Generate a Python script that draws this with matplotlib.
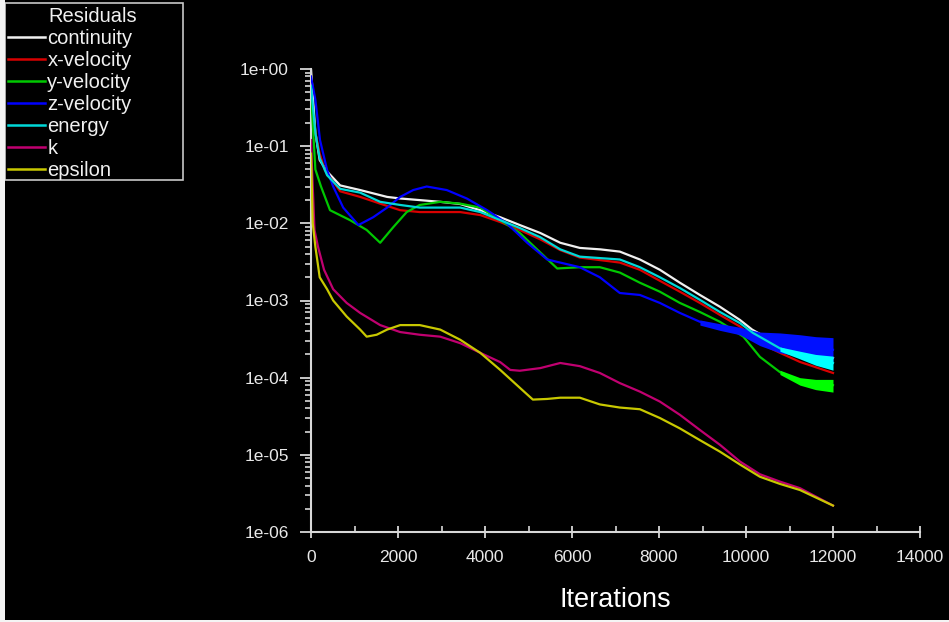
import matplotlib
matplotlib.use("Agg")
import matplotlib.pyplot as plt
from matplotlib.lines import Line2D
from matplotlib.patches import Rectangle

plt.rcParams['font.family'] = ['Liberation Sans', 'DejaVu Sans']

# ---------------- data ----------------
cont_it = [0, 100, 200, 370, 670, 1130, 1750, 2050, 2500, 2970, 3430, 3890, 4350, 4800,
           5270, 5730, 6180, 6650, 7100, 7560, 8020, 8480, 8940, 9400, 9860, 10140,
           10600, 11000, 11500, 12000]
cont = [1.0, 0.15, 0.066, 0.047, 0.031, 0.027, 0.022, 0.021, 0.020, 0.019, 0.0178, 0.0148,
        0.012, 0.0095, 0.0075, 0.0056, 0.0048, 0.0046, 0.0043, 0.0034, 0.0025, 0.0017,
        0.00118, 0.00083, 0.00056, 0.00042, 0.00030, 0.00025, 0.00021, 0.00018]

xvel_it = [0, 100, 200, 320, 670, 1130, 1590, 2050, 2500, 3430, 3890, 4350, 4800, 5270,
           5730, 6180, 7100, 7560, 8020, 8480, 8940, 9400, 9860, 10320, 10780, 11240, 12000]
xvel = [0.4, 0.15, 0.08, 0.049, 0.026, 0.022, 0.018, 0.0148, 0.014, 0.014, 0.0128, 0.0104,
        0.0082, 0.0062, 0.0045, 0.0036, 0.0031, 0.0025, 0.0018, 0.0013, 0.00093, 0.00065,
        0.00046, 0.00028, 0.00021, 0.00016, 0.000115]

yvel_it = [0, 100, 230, 437, 897, 1280, 1590, 1890, 2200, 2500, 2970, 3430, 3890, 4350,
           4800, 5270, 5660, 6180, 6640, 7100, 7560, 8020, 8480, 8940, 9400, 9940, 10320,
           10780, 11240, 11600, 12000]
yvel = [0.5, 0.05, 0.03, 0.0148, 0.011, 0.0082, 0.0056, 0.0089, 0.014, 0.0173, 0.019, 0.018,
        0.016, 0.011, 0.0075, 0.0042, 0.0026, 0.0027, 0.0027, 0.0023, 0.0017, 0.0013, 0.00093,
        0.00071, 0.00053, 0.00034, 0.000186, 0.000118, 0.00009, 0.000083, 0.00008]
yvel_band_it = [10780, 11240, 11600, 12000]
yvel_band_hi = [0.000125, 0.000100, 0.000095, 0.000095]
yvel_band_lo = [0.000110, 0.000080, 0.000070, 0.000065]

zvel_it = [0, 100, 207, 370, 510, 740, 1090, 1430, 1750, 2050, 2350, 2660, 3120, 3580, 4050,
           4500, 4970, 5430, 5730, 6180, 6640, 7100, 7560, 8020, 8480, 8940, 9400, 9860,
           10320, 10780, 11240, 12000]
zvel = [0.8, 0.4, 0.12, 0.049, 0.030, 0.016, 0.0095, 0.012, 0.016, 0.022, 0.027, 0.030, 0.027,
        0.021, 0.0148, 0.010, 0.0056, 0.0034, 0.0031, 0.0027, 0.0020, 0.00125, 0.00118, 0.00093,
        0.00069, 0.00053, 0.00046, 0.00040, 0.00032, 0.00028, 0.00026, 0.00023]
zvel_band_it = [8940, 9400, 9860, 10320, 10780, 11240, 11600, 12000]
zvel_band_hi = [0.00056, 0.00050, 0.00045, 0.00039, 0.00038, 0.00036, 0.00034, 0.00033]
zvel_band_lo = [0.00048, 0.00041, 0.00036, 0.00026, 0.00021, 0.00019, 0.00017, 0.00016]

energy_it = [0, 100, 200, 370, 670, 1130, 1590, 2050, 2500, 2970, 3430, 3890, 4350, 4800,
             5270, 5730, 6180, 7100, 7560, 8020, 8480, 8940, 9400, 9860, 10160, 10780,
             11240, 11600, 12000]
energy = [0.6, 0.15, 0.07, 0.042, 0.028, 0.025, 0.019, 0.0173, 0.016, 0.016, 0.016, 0.014,
          0.011, 0.0087, 0.0066, 0.0046, 0.0037, 0.0034, 0.0027, 0.0020, 0.00145, 0.00102,
          0.00071, 0.00051, 0.00038, 0.00024, 0.000195, 0.00017, 0.000155]
energy_band_it = [10780, 11240, 11600, 12000]
energy_band_hi = [0.00025, 0.00022, 0.00020, 0.00019]
energy_band_lo = [0.00022, 0.000175, 0.000145, 0.000125]

k_it = [0, 40, 80, 160, 300, 510, 820, 1130, 1590, 2050, 2500, 2970, 3430, 3890, 4350, 4580,
        4800, 5270, 5730, 6180, 6640, 7100, 7560, 8020, 8480, 8940, 9400, 9860, 10320, 10780,
        11240, 12000]
k = [0.12, 0.03, 0.0082, 0.005, 0.0025, 0.0014, 0.00093, 0.00069, 0.00048, 0.00039, 0.00036,
     0.00034, 0.00028, 0.00021, 0.000159, 0.000126, 0.000123, 0.000133, 0.000155, 0.000141,
     0.000115, 0.000085, 0.000066, 0.000049, 0.000033, 0.000021, 0.0000135, 0.0000082,
     0.0000056, 0.0000045, 0.0000037, 0.0000022]

eps_it = [0, 40, 100, 200, 370, 510, 820, 1130, 1280, 1510, 1750, 2050, 2500, 2970, 3430,
          3890, 4350, 4800, 5100, 5430, 5730, 6180, 6640, 7100, 7560, 8020, 8480, 8940,
          9400, 9860, 10320, 10780, 11240, 12000]
eps = [0.08, 0.01, 0.005, 0.002, 0.0014, 0.001, 0.00062, 0.00042, 0.00034, 0.00036, 0.00042,
       0.00048, 0.00048, 0.00042, 0.00031, 0.00021, 0.000126, 0.000074, 0.000052, 0.000053,
       0.000055, 0.000055, 0.000045, 0.000041, 0.000039, 0.00003, 0.000022, 0.0000155,
       0.000011, 0.0000075, 0.0000052, 0.0000042, 0.0000035, 0.0000022]

labels = ["continuity", "x-velocity", "y-velocity", "z-velocity", "energy", "k", "epsilon"]
colors = ["#f0f0f0", "#d80000", "#00c800", "#0000ff", "#00d8d8", "#c00070", "#c8c800"]
band_colors = {"y-velocity": "#00ff00", "z-velocity": "#0010ff", "energy": "#00ffff"}

x_ticks = [0, 2000, 4000, 6000, 8000, 10000, 12000, 14000]
y_ticks = [1e-6, 1e-5, 1e-4, 1e-3, 1e-2, 1e-1, 1e0]
y_ticklabels = ["1e-06", "1e-05", "1e-04", "1e-03", "1e-02", "1e-01", "1e+00"]

# ---------------- figure ----------------
W, H = 949, 622
fig = plt.figure(figsize=(W / 100, H / 100), dpi=100, facecolor="black")
ax = fig.add_axes([311 / W, 1 - 532 / H, 609 / W, (532 - 69) / H])
ax.set_facecolor("black")

series = [(cont_it, cont), (xvel_it, xvel), (yvel_it, yvel), (zvel_it, zvel),
          (energy_it, energy), (k_it, k), (eps_it, eps)]
bands = {"y-velocity": (yvel_band_it, yvel_band_hi, yvel_band_lo),
         "z-velocity": (zvel_band_it, zvel_band_hi, zvel_band_lo),
         "energy": (energy_band_it, energy_band_hi, energy_band_lo)}

for i, ((xs, ys), lab, col) in enumerate(zip(series, labels, colors)):
    ax.plot(xs, ys, color=col, lw=1.6, zorder=2 + i, solid_joinstyle="round")
    if lab in bands:
        bx, bhi, blo = bands[lab]
        ax.fill_between(bx, blo, bhi, color=band_colors[lab], lw=0, zorder=2 + i)

ax.set_yscale("log")
ax.set_ylim(1e-6, 1e0)
ax.set_xlim(0, 14000)
ax.set_xticks(x_ticks)
ax.set_xticklabels([str(v) for v in x_ticks])
ax.set_xticks([1000, 3000, 5000, 7000, 9000, 11000, 13000], minor=True)
ax.set_yticks(y_ticks)
ax.set_yticklabels(y_ticklabels)

for s in ["top", "right"]:
    ax.spines[s].set_visible(False)
for s in ["left", "bottom"]:
    ax.spines[s].set_color("#d8d8d8")
    ax.spines[s].set_linewidth(1.5)

ax.tick_params(axis="both", which="major", colors="#d8d8d8", labelcolor="#e8e8e8",
               labelsize=12.5, length=8, width=1.3)
ax.tick_params(axis="x", which="major", direction="inout", pad=9)
ax.tick_params(axis="x", which="minor", direction="in", length=4, width=1.2, colors="#d8d8d8")
ax.tick_params(axis="y", which="minor", direction="out", length=4, width=1.2, colors="#d8d8d8")
ax.tick_params(axis="y", which="major", pad=8)
ax.set_xlabel("Iterations", color="white", fontsize=19.5, labelpad=16)

# legend (frame and title drawn separately to match the reference box)
fig.add_artist(Rectangle((5 / W, 1 - 180 / H), 178 / W, 177 / H, transform=fig.transFigure,
                         facecolor="black", edgecolor="#c8c8c8", lw=1.2, zorder=1))
fig.text(48 / W, 1 - 17 / H, "Residuals", color="#f0f0f0", fontsize=14.5,
         ha="left", va="center", zorder=3)
handles = [Line2D([0], [0], color=c, lw=1.8) for c in colors]
leg = fig.legend(handles, labels, loc="upper left",
                 bbox_to_anchor=(8 / W, 1 - 29 / H), frameon=False, fontsize=14.5,
                 handlelength=1.85, handletextpad=0.1,
                 labelspacing=0.15, borderpad=0.0, borderaxespad=0)
leg.set_zorder(3)
for t in leg.get_texts():
    t.set_color("#f0f0f0")

# light frame strips at left and bottom edge
fig.add_artist(Rectangle((0, 0), 5 / W, 1, transform=fig.transFigure, color="#f4f4f4", lw=0))
fig.add_artist(Rectangle((0, 0), 1, 2 / H, transform=fig.transFigure, color="#f4f4f4", lw=0))

fig.savefig("out.png", dpi=100, facecolor="black")
